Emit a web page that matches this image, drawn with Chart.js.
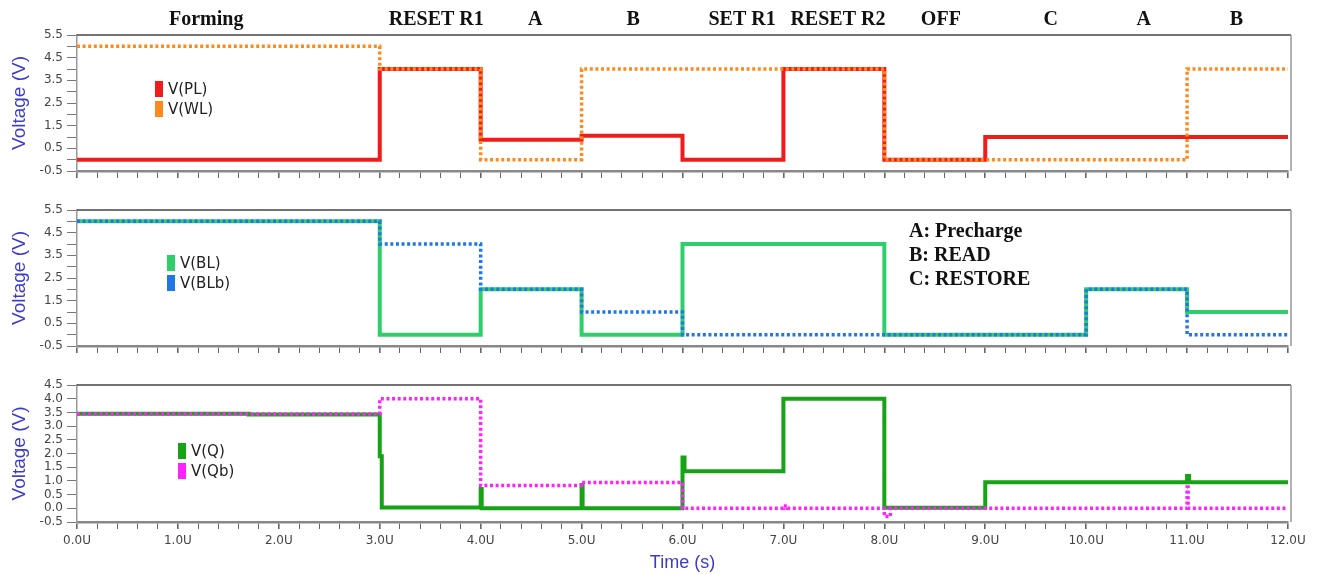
<!DOCTYPE html>
<html>
<head>
<meta charset="utf-8">
<script src="https://cdn.jsdelivr.net/npm/chart.js@4.4.1/dist/chart.umd.min.js"></script>
<style>
html, body { margin: 0; padding: 0; background: #fff; }
#wrap { position: relative; width: 1317px; height: 575px; }
#wrap canvas { position: absolute; left: 0; top: 0; }
</style>
</head>
<body>
<div id="wrap">
  <canvas id="c1" width="1317" height="575"></canvas>
  <canvas id="c2" width="1317" height="575"></canvas>
  <canvas id="c3" width="1317" height="575"></canvas>
</div>
<script>
// Phases written above the top panel (x in time units)
const phaseLabels = ['Forming', 'RESET R1', 'A', 'B', 'SET R1', 'RESET R2', 'OFF', 'C', 'A', 'B'];
const phasePos = [1.28, 3.56, 4.54, 5.51, 6.59, 7.54, 8.56, 9.65, 10.57, 11.49];
const noteLines = ['A: Precharge', 'B: READ', 'C: RESTORE'];

// Step waveforms: value holds from each time until the next one
const plTime = [0, 3, 4, 5, 6, 7, 8, 9, 12];
const plVolt = [0, 4, 0.88, 1.05, 0, 4, 0, 1, 1];
const wlTime = [0, 3, 4, 5, 8, 11, 12];
const wlVolt = [5, 4, 0, 4, 0, 4, 4];

const blTime = [0, 3, 4, 5, 6, 8, 10, 11, 12];
const blVolt = [5, 0, 2, 0, 4, 0, 2, 1, 1];
const blbTime = [0, 3, 4, 5, 6, 10, 11, 12];
const blbVolt = [5, 4, 2, 1, 0, 2, 0, 0];

const qTime = [0, 1.7, 3, 3.02, 4, 4.01, 5, 5.01, 6, 6.02, 7, 8, 9, 11, 11.02, 12];
const qVolt = [3.45, 3.42, 1.9, 0.03, 0.7, 0, 0.85, 0, 1.85, 1.35, 4, 0.02, 0.95, 1.18, 0.95, 0.95];
const qbTime = [0, 3, 4, 5, 6, 7, 7.04, 8, 8.06, 11, 11.01, 12];
const qbVolt = [3.44, 4, 0.83, 0.94, 0, 0.08, 0, -0.3, 0, 0.78, 0, 0];

// each value holds from its time up to the next time
function pts(times, volts) {
    const out = [];
    times.forEach((t, i) => {
        if (i > 0) out.push({ x: t, y: volts[i - 1] });
        out.push({ x: t, y: volts[i] });
    });
    return out;
}

function solid(label, color, times, volts) {
    return {
        label: label, data: pts(times, volts), borderColor: color, backgroundColor: color,
        borderWidth: 4, pointRadius: 0, fill: false, order: 2,
        borderJoinStyle: 'miter'
    };
}

function dotted(label, color, times, volts) {
    return {
        label: label, data: pts(times, volts), borderColor: color, backgroundColor: color,
        borderWidth: 3.5, borderDash: [3, 2.6], pointRadius: 0, fill: false,
        order: 1, borderJoinStyle: 'miter'
    };
}

// frame lines on top and right of the plot area
const framePlugin = {
    id: 'frame',
    afterDraw(chart) {
        const { ctx, chartArea: a } = chart;
        ctx.save();
        ctx.lineWidth = 1.5;
        ctx.strokeStyle = '#444';
        ctx.beginPath();
        ctx.moveTo(a.left, a.top);
        ctx.lineTo(a.right + 3, a.top);
        ctx.stroke();
        ctx.strokeStyle = '#999';
        ctx.beginPath();
        ctx.moveTo(a.right + 3, a.top);
        ctx.lineTo(a.right + 3, a.bottom);
        ctx.stroke();
        ctx.restore();
    }
};

// legend drawn inside the plot area
const boxLegend = {
    id: 'boxLegend',
    afterDraw(chart, args, o) {
        const ctx = chart.ctx;
        ctx.save();
        ctx.font = '15px "DejaVu Sans"';
        ctx.textBaseline = 'middle';
        chart.data.datasets.forEach((ds, i) => {
            const y = o.y + i * 20;
            ctx.fillStyle = ds.borderColor;
            ctx.fillRect(o.x, y - 8, 8, 16);
            ctx.fillStyle = '#222';
            ctx.fillText(ds.label, o.x + 13, y + 1);
        });
        ctx.restore();
    }
};

// free texts: phase names and the A/B/C note
const texts = {
    id: 'texts',
    afterDraw(chart, args, o) {
        const ctx = chart.ctx;
        ctx.save();
        ctx.font = 'bold 20px "Liberation Serif"';
        ctx.fillStyle = '#111';
        ctx.textBaseline = 'middle';
        if (o.phases) {
            ctx.textAlign = 'center';
            phaseLabels.forEach((t, i) => {
                ctx.fillText(t, chart.scales.x.getPixelForValue(phasePos[i]), 20);
            });
        }
        if (o.note) {
            ctx.textAlign = 'left';
            noteLines.forEach((t, i) => ctx.fillText(t, o.note.x, o.note.y + i * 24));
        }
        ctx.restore();
    }
};

const tickFont = { family: 'DejaVu Sans', size: 12 };
const blue = '#3b3bcf';

function makePanel(id, cfg) {
    const ctx = document.getElementById(id).getContext('2d');
    return new Chart(ctx, {
        type: 'line',
        data: { datasets: cfg.datasets },
        plugins: [framePlugin, boxLegend, texts],
        options: {
            responsive: false,
            animation: false,
            events: [],
            layout: { padding: { top: cfg.top, bottom: cfg.bottom, left: 0, right: 29 } },
            plugins: {
                legend: { display: false },
                tooltip: { enabled: false },
                boxLegend: cfg.legend,
                texts: { phases: cfg.phases, note: cfg.note }
            },
            scales: {
                x: {
                    type: 'linear',
                    min: 0,
                    max: 12,
                    afterFit(scale) { scale.height = cfg.xHeight; },
                    border: { color: '#888', width: 2.5 },
                    grid: {
                        drawOnChartArea: false,
                        tickLength: 7,
                        tickColor: '#666',
                        lineWidth: c => (Math.abs(c.tick.value - Math.round(c.tick.value)) < 1e-6 ? 1.6 : 1)
                    },
                    ticks: {
                        display: cfg.xLabels,
                        stepSize: 0.2,
                        maxTicksLimit: 100,
                        autoSkip: false,
                        maxRotation: 0,
                        minRotation: 0,
                        padding: 5,
                        color: '#444',
                        font: tickFont,
                        callback: v => (Math.abs(v - Math.round(v)) < 1e-6 ? v.toFixed(1) + 'U' : '')
                    },
                    title: {
                        display: cfg.xLabels,
                        text: 'Time (s)',
                        color: blue,
                        font: { family: 'Liberation Sans', size: 18 },
                        padding: { top: 0, bottom: 1 }
                    }
                },
                y: {
                    min: cfg.yMin,
                    max: cfg.yMax,
                    afterFit(scale) { scale.width = 77; },
                    border: { color: '#999', width: 1.5 },
                    grid: { drawOnChartArea: false, tickLength: 10, tickColor: '#777' },
                    ticks: {
                        stepSize: 0.5,
                        autoSkip: false,
                        padding: 4,
                        color: '#444',
                        font: tickFont,
                        callback: cfg.yLabel
                    },
                    title: {
                        display: true,
                        text: 'Voltage (V)',
                        color: blue,
                        font: { family: 'Liberation Sans', size: 19 },
                        padding: { top: 8, bottom: 0 }
                    }
                }
            }
        }
    });
}

const halfLabels = v => (Math.abs(Math.round(v * 2)) % 2 === 1 ? v.toFixed(1) : '');

makePanel('c1', {
    top: 35, bottom: 394, xHeight: 10, xLabels: false,
    yMin: -0.5, yMax: 5.5, yLabel: halfLabels,
    legend: { x: 155, y: 89 },
    phases: true,
    datasets: [
        solid('V(PL)', '#f21a1a', plTime, plVolt),
        dotted('V(WL)', '#ff8a1c', wlTime, wlVolt)
    ]
});

makePanel('c2', {
    top: 210, bottom: 219, xHeight: 10, xLabels: false,
    yMin: -0.5, yMax: 5.5, yLabel: halfLabels,
    legend: { x: 167, y: 263 },
    note: { x: 909, y: 232 },
    datasets: [
        solid('V(BL)', '#2ecf6a', blTime, blVolt),
        dotted('V(BLb)', '#1f78e6', blbTime, blbVolt)
    ]
});

makePanel('c3', {
    top: 385, bottom: 0, xHeight: 53, xLabels: true,
    yMin: -0.5, yMax: 4.5, yLabel: v => v.toFixed(1),
    legend: { x: 178, y: 451 },
    datasets: [
        solid('V(Q)', '#16a316', qTime, qVolt),
        dotted('V(Qb)', '#ff22ff', qbTime, qbVolt)
    ]
});
</script>
</body>
</html>
